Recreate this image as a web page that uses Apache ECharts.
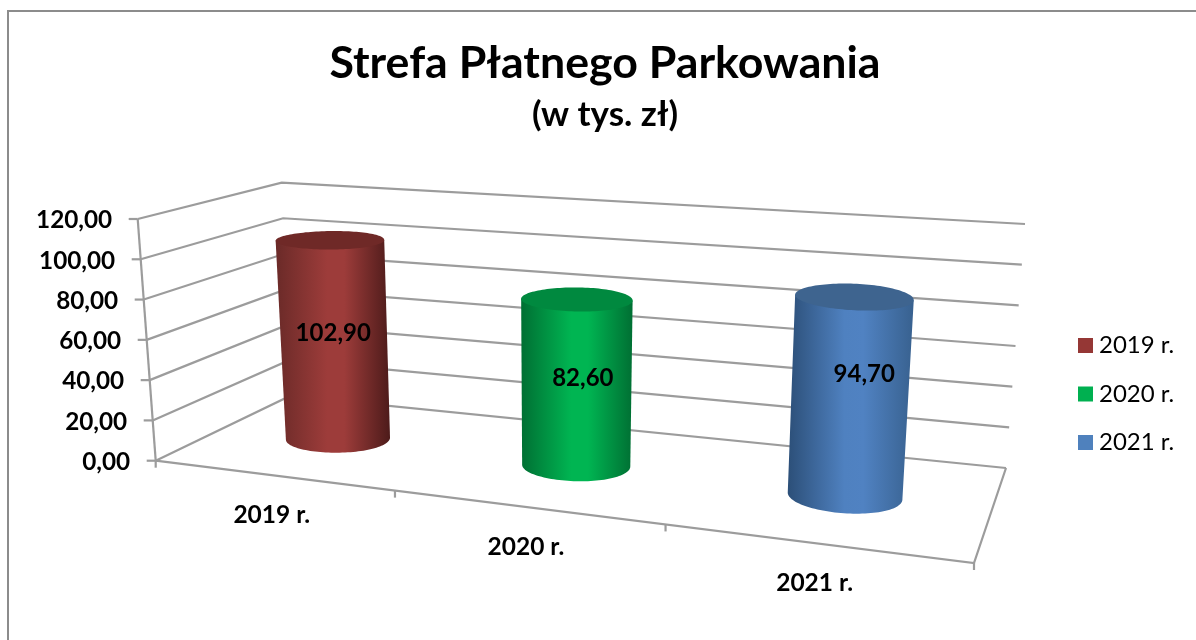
<!DOCTYPE html>
<html><head><meta charset="utf-8">
<style>html,body{margin:0;padding:0;background:#fff}#c{width:1196px;height:640px}</style>
<script src="https://cdn.jsdelivr.net/npm/echarts@6/dist/echarts.min.js"></script>
</head><body><div id="c"></div>
<script>
const categories = ['2019 r.', '2020 r.', '2021 r.'];
const values = [102.9, 82.6, 94.7];
const yTicks = [0, 20, 40, 60, 80, 100, 120];
const titleText = 'Strefa Płatnego Parkowania';
const subtitleText = '(w tys. zł)';

const fmt = v => v.toFixed(2).replace('.', ',');
const FONT = 'Lato, Carlito, sans-serif';
const GRID = {left: 155.7, width: 818.3, top: 219, height: 241.7};
const C = {
  FLb: [155.7, 460.7], FRb: [974, 563], BLb: [290, 396], BRb: [1006, 468],
  FLt: [137.7, 219], FRt: [1004, 291], BLt: [281.7, 182.7], BRt: [1025, 224]
};
const K = 1.21, BAR_V = 0.54, RAD_V = 0.19;
const RAD_U = [0.07, 0.068, 0.0655];
const BAR_DX = [1.5, 2.5, 2];
const TOP_DX = [0, 0.5, -2];
const LABEL_NUDGE = [[0, -6], [8, -4], [15, -22]];
const STYLES = [
  {legend: '#953735', top: '#6f2927', stops: ['#6a2a28', '#9d3c3a', '#9d3c3a', '#4d1b1a']},
  {legend: '#00b050', top: '#00893f', stops: ['#006f33', '#00b552', '#00b552', '#006f33']},
  {legend: '#4f81bd', top: '#3e648f', stops: ['#2c4f78', '#4f81c0', '#5082c2', '#38618f']}
];
const lerp = (a, b, t) => [a[0] + (b[0] - a[0]) * t, a[1] + (b[1] - a[1]) * t];
function P(u, v, h) {
  const t = u / (u + K * (1 - u));
  const front = lerp(lerp(C.FLb, C.FRb, t), lerp(C.FLt, C.FRt, t), h);
  const back = lerp(lerp(C.BLb, C.BRb, t), lerp(C.BLt, C.BRt, t), h);
  return lerp(front, back, v);
}
const toU = (x) => (x - GRID.left) / GRID.width;
const toH = (api, val) => {
  const y0 = api.coord([0, 0])[1], y1 = api.coord([0, 120])[1];
  return (y0 - api.coord([0, val])[1]) / (y0 - y1);
};
const LINE = {stroke: '#9c9c9c', lineWidth: 2.2, fill: null};
const line = pts => ({type: 'polyline', shape: {points: pts}, style: LINE, silent: true});

function renderFrame(params, api) {
  const val = api.value(1);
  const h = toH(api, val);
  const kids = [
    line([P(0, 0, h), P(0, 1, h), P(1, 1, h)]),
    line([[P(0, 0, h)[0] - 9, P(0, 0, h)[1]], P(0, 0, h)])
  ];
  kids.push({type: 'text', silent: true, x: P(0, 0, h)[0] - 25.5, y: P(0, 0, h)[1] + 1.5,
    style: {text: fmt(val), font: 'bold 24.3px ' + FONT, fill: '#000', align: 'right', verticalAlign: 'middle'}});
  if (params.dataIndex === 0) {
    kids.push(line([P(0, 0, 0), P(1, 0, 0), P(1, 1, 0)]));
    kids.push(line([P(0, 0, 0), P(0, 0, 1)]));
    [0, 1 / 3, 2 / 3, 1].forEach(u => {
      const p = P(u, 0, 0);
      kids.push(line([p, [p[0], p[1] + 7]]));
    });
    categories.forEach((c, i) => {
      const p = P(toU(api.coord([i, 0])[0]), 0, 0);
      kids.push({type: 'text', silent: true, x: p[0], y: p[1] + 40,
        style: {text: c, font: 'bold 24.5px ' + FONT, fill: '#000', align: 'center', verticalAlign: 'middle'}});
    });
  }
  return {type: 'group', children: kids};
}

function renderBar(i) {
  return function (params, api) {
    const base = api.coord([api.value(0), 0]);
    const val = api.value(1);
    const u0 = toU(base[0]), h = toH(api, val);
    const N = 120, bot = [], top = [];
    for (let a = 0; a < N; a++) {
      const th = a / N * 2 * Math.PI;
      const u = u0 + RAD_U[i] * Math.cos(th), v = BAR_V + RAD_V * Math.sin(th);
      const pb = P(u, v, 0), pt = P(u, v, h);
      bot.push([pb[0] + BAR_DX[i], pb[1] + 0.5]);
      top.push([pt[0] + TOP_DX[i], pt[1]]);
    }
    const extreme = (arr, sign) => arr.reduce((b, p, k) => sign * p[0] > sign * arr[b][0] ? k : b, 0);
    const bL = extreme(bot, -1), bR = extreme(bot, 1), tL = extreme(top, -1), tR = extreme(top, 1);
    const arc = [];
    for (let k = bR; ; k = (k + 1) % N) {
      arc.push(k);
      if (k === bL) break;
    }
    const arcPts = arc.map(k => bot[k]);
    const mean = arcPts.reduce((s, p) => s + p[1], 0) / arcPts.length;
    const bm = (bot[bL][1] + bot[bR][1]) / 2;
    let lower;
    if (mean > bm) { lower = arcPts; }
    else {
      lower = [];
      for (let k = bL; ; k = (k + 1) % N) { lower.push(bot[k]); if (k === bR) break; }
      lower.reverse();
    }
    const body = [top[tR]].concat(lower, [top[tL]]);
    const s = STYLES[i];
    const n = LABEL_NUDGE[i];
    const mid = P(u0, BAR_V, h / 2);
    return {type: 'group', children: [
      {type: 'polygon', shape: {points: body}, style: {fill: new echarts.graphic.LinearGradient(0, 0, 1, 0, [
        {offset: 0, color: s.stops[0]}, {offset: 0.45, color: s.stops[1]}, {offset: 0.6, color: s.stops[2]}, {offset: 1, color: s.stops[3]}
      ])}},
      {type: 'polygon', shape: {points: top}, style: {fill: s.top}},
      {type: 'text', silent: true, x: mid[0] + n[0], y: mid[1] + n[1],
        style: {text: fmt(val), font: 'bold 24px ' + FONT, fill: '#000', align: 'center', verticalAlign: 'middle'}}
    ]};
  };
}

const chart = echarts.init(document.getElementById('c'), null, {renderer: 'canvas'});
chart.setOption({
  animation: false,
  backgroundColor: '#fff',
  title: {text: titleText, subtext: subtitleText, left: 600, top: 34, textAlign: 'center', itemGap: 8,
    textStyle: {fontFamily: FONT, fontWeight: 'bold', fontSize: 44.7, color: '#000', lineHeight: 50},
    subtextStyle: {fontFamily: FONT, fontWeight: 'bold', fontSize: 35, color: '#000', lineHeight: 36}},
  legend: {orient: 'vertical', left: 1078, top: 331.5, padding: 0, itemWidth: 15, itemHeight: 15, itemGap: 20.5, icon: 'rect',
    data: categories, textStyle: {fontFamily: FONT, fontSize: 24, color: '#000', lineHeight: 28, padding: [0, 0, 0, 1]}, selectedMode: false},
  grid: {left: GRID.left, top: GRID.top, width: GRID.width, height: GRID.height, containLabel: false},
  xAxis: {type: 'category', data: categories, show: false},
  yAxis: {type: 'value', min: 0, max: 120, interval: 20, show: false},
  graphic: [{type: 'polyline', silent: true, shape: {points: [[8, 640], [8, 11], [1196, 11]]},
    style: {stroke: '#8c8c8c', lineWidth: 2, fill: null}}],
  series: [
    {type: 'custom', name: 'frame', silent: true, z: 1, clip: false, renderItem: renderFrame,
     data: yTicks.map(v => [0, v]), encode: {x: 0, y: 1}}
  ].concat(categories.map((c, i) => ({
    type: 'custom', name: c, z: 2, clip: false, silent: true, renderItem: renderBar(i),
    itemStyle: {color: STYLES[i].legend},
    data: [[i, values[i]]], encode: {x: 0, y: 1}
  })))
});
</script></body></html>
